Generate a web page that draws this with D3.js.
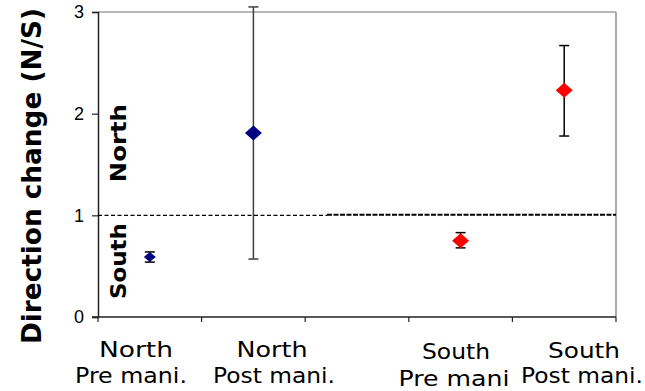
<!DOCTYPE html>
<html>
<head>
<meta charset="utf-8">
<script src="https://cdn.jsdelivr.net/npm/d3@7"></script>
<style>
  html, body { margin: 0; padding: 0; background: #fff; }
  svg { display: block; }
  .cat { font-family: "Comic Sans MS", "DejaVu Sans", sans-serif; font-size: 21px; fill: #000; }
  .ttl { font-family: "Comic Sans MS", "DejaVu Sans", sans-serif; font-weight: bold; fill: #000; }
</style>
</head>
<body>
<svg id="chart" width="645" height="391"></svg>
<script>
// Category slots along the x axis (the middle slot is left empty)
const slots = ["NPre", "NPost", "gap", "SPre", "SPost"];
const labelLine1 = ["North", "North", "", "South", "South"];
const labelLine2 = ["Pre mani.", "Post mani.", "", "Pre mani", "Post mani."];

// Measured ratio (N/S) with error bar extents
const pointSlots = ["NPre", "NPost", "SPre", "SPost"];
const means  = [0.59, 1.81, 0.75, 2.23];
const lowers = [0.54, 0.57, 0.68, 1.78];
const uppers = [0.64, 3.05, 0.83, 2.67];
const groups = ["North", "North", "South", "South"];

const yTicks = [0, 1, 2, 3];
const threshold = 1;

const svg = d3.select("#chart");
const plotLeft = 98, plotRight = 616, plotTop = 12, plotBottom = 317;

const x = d3.scaleBand().domain(slots).range([plotLeft, plotRight]).padding(0);
const y = d3.scaleLinear().domain([0, 3]).range([plotBottom, plotTop]);

// Plot frame: grey top/right edges
svg.append("line").attr("x1", plotLeft).attr("x2", plotRight).attr("y1", y(3)).attr("y2", y(3))
  .attr("stroke", "#a0a0a0").attr("stroke-width", 1.5);
svg.append("line").attr("x1", plotRight).attr("x2", plotRight).attr("y1", y(3)).attr("y2", y(0))
  .attr("stroke", "#909090").attr("stroke-width", 1.5);

// Y axis
const yAxis = svg.append("g").attr("transform", `translate(${plotLeft},0)`)
  .call(d3.axisLeft(y).tickValues(yTicks).tickSize(6).tickPadding(8).tickFormat(d3.format("d")));
yAxis.select(".domain").attr("stroke", "#222").attr("stroke-width", 1.5);
yAxis.selectAll(".tick line").attr("stroke", "#222").attr("stroke-width", 1.2);
yAxis.selectAll(".tick text").attr("font-family", "Liberation Sans, Arial, sans-serif")
  .attr("font-size", 18).attr("fill", "#000");

// X axis with ticks at slot boundaries
svg.append("line").attr("x1", plotLeft - 6).attr("x2", plotRight).attr("y1", y(0)).attr("y2", y(0))
  .attr("stroke", "#222").attr("stroke-width", 1.5);
const bounds = slots.map(s => x(s)).concat([x.range()[1]]);
svg.append("g").selectAll("line").data(bounds).join("line")
  .attr("x1", d => d).attr("x2", d => d)
  .attr("y1", y(0)).attr("y2", y(0) + 5)
  .attr("stroke", "#222").attr("stroke-width", 1.2);

// Threshold line at ratio 1 (two dashed segments)
const split = 327;
svg.append("line").attr("x1", plotLeft).attr("x2", split).attr("y1", y(threshold)).attr("y2", y(threshold))
  .attr("stroke", "#000").attr("stroke-width", 1.3).attr("stroke-dasharray", "4,2.5");
svg.append("line").attr("x1", split).attr("x2", plotRight).attr("y1", y(threshold) - 0.5).attr("y2", y(threshold) - 0.5)
  .attr("stroke", "#000").attr("stroke-width", 2).attr("stroke-dasharray", "5,1.5");

// Error bars
const pts = pointSlots.map((s, i) => ({
  s, m: means[i], lo: lowers[i], hi: uppers[i], g: groups[i], i
}));
const cx = d => x(d.s) + x.bandwidth() / 2;
const barColor = d => d.s === "NPost" ? "#404040" : "#000";
const eb = svg.append("g");
eb.selectAll("line.stem").data(pts).join("line").attr("class", "stem")
  .attr("x1", cx).attr("x2", cx).attr("y1", d => y(d.lo)).attr("y2", d => y(d.hi))
  .attr("stroke", barColor).attr("stroke-width", 1.5);
["lo", "hi"].forEach(k => {
  eb.selectAll("line.cap" + k).data(pts).join("line").attr("class", "cap" + k)
    .attr("x1", d => cx(d) - 5).attr("x2", d => cx(d) + 5)
    .attr("y1", d => y(d[k])).attr("y2", d => y(d[k]))
    .attr("stroke", barColor).attr("stroke-width", 1.5);
});

// Diamond markers
const markerW = [12, 17, 17, 17];
const markerH = [10, 15, 15, 15];
svg.append("g").selectAll("path").data(pts).join("path")
  .attr("d", d => {
    const w = markerW[d.i] / 2, h = markerH[d.i] / 2;
    const px = cx(d), py = y(d.m);
    return `M${px},${py - h}L${px + w},${py}L${px},${py + h}L${px - w},${py}Z`;
  })
  .attr("fill", d => d.g === "North" ? "#000080" : "#ff0000");

// Category labels: two lines per slot, each with its own centre, baseline and width
const labelLayout = [
  { c1: 136, b1: 357, w1: 74, c2: 131, b2: 383, w2: 112 },
  { c1: 272, b1: 357, w1: 71, c2: 274, b2: 383, w2: 122 },
  null,
  { c1: 456, b1: 359, w1: 68, c2: 454, b2: 386, w2: 111 },
  { c1: 584, b1: 358, w1: 72, c2: 582, b2: 383, w2: 122 }
];
slots.forEach((s, i) => {
  if (!labelLine1[i]) return;
  const p = labelLayout[i];
  svg.append("text").attr("class", "cat").attr("x", p.c1).attr("y", p.b1)
    .attr("text-anchor", "middle").attr("textLength", p.w1).attr("lengthAdjust", "spacingAndGlyphs")
    .text(labelLine1[i]);
  svg.append("text").attr("class", "cat").attr("x", p.c2).attr("y", p.b2)
    .attr("text-anchor", "middle").attr("textLength", p.w2).attr("lengthAdjust", "spacingAndGlyphs")
    .text(labelLine2[i]);
});

// Y axis title
svg.append("text").attr("class", "ttl").attr("font-size", 27)
  .attr("transform", "translate(41,176) rotate(-90)")
  .attr("text-anchor", "middle").attr("textLength", 336).attr("lengthAdjust", "spacingAndGlyphs")
  .text("Direction change (N/S)");

// Region labels on either side of the threshold
svg.append("text").attr("class", "ttl").attr("font-size", 22)
  .attr("transform", `translate(126,${y(1.71)}) rotate(-90)`)
  .attr("text-anchor", "middle").attr("textLength", 78).attr("lengthAdjust", "spacingAndGlyphs")
  .text("North");
svg.append("text").attr("class", "ttl").attr("font-size", 22)
  .attr("transform", `translate(126,${y(0.55)}) rotate(-90)`)
  .attr("text-anchor", "middle").attr("textLength", 76).attr("lengthAdjust", "spacingAndGlyphs")
  .text("South");
</script>
</body>
</html>
